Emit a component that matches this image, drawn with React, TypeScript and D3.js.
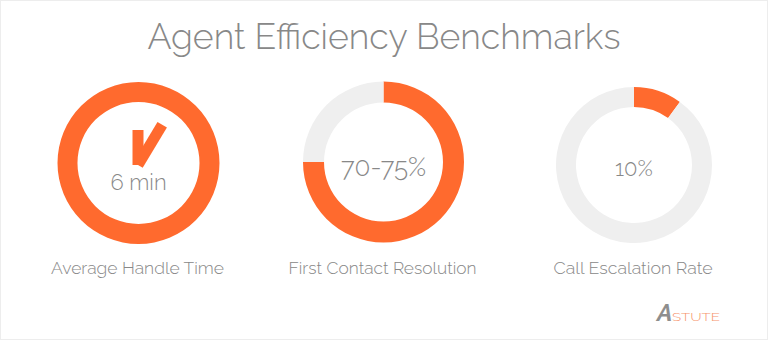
import React from "react";
import * as d3 from "d3";

const metricLabels = ["Average Handle Time", "First Contact Resolution", "Call Escalation Rate"];
const valueLabels = ["6 min", "70-75%", "10%"];
const shares = [1.0, 0.75, 0.1];
const titleText = "Agent Efficiency Benchmarks";
const handAngles = [0, 31]; // degrees: hour hand, minute hand (clock in first ring)
const handLengths = [35, 47];

const W = 768;
const H = 340;
const ORANGE = "#FF6A2E";
const TRACK = "#EFEFEF";
const TEXT = "#888888";
const FONT = "Raleway, Lato, 'Open Sans', sans-serif";

const layout = [
  { cx: 138.5, cy: 163, ro: 81, ri: 61, fs: 22, ty: 190, lw: 173 },
  { cx: 383.5, cy: 162, ro: 80.5, ri: 59.5, fs: 26, ty: 176, lw: 188 },
  { cx: 634, cy: 165, ro: 78, ri: 58, fs: 22, ty: 176, lw: 159 },
];

function handPolygon(cx: number, cy: number, angleDeg: number, len: number, w: number) {
  const a = (angleDeg * Math.PI) / 180;
  const ux = Math.sin(a), uy = -Math.cos(a);
  const px = Math.cos(a), py = Math.sin(a);
  const pts: [number, number][] = [
    [cx - (px * w) / 2, cy - (py * w) / 2],
    [cx + (px * w) / 2, cy + (py * w) / 2],
    [cx + (px * w) / 2 + ux * len, cy + (py * w) / 2 + uy * len],
    [cx - (px * w) / 2 + ux * len, cy - (py * w) / 2 + uy * len],
  ];
  return pts.map((p) => p.join(",")).join(" ");
}

export default function App() {
  const pie = d3.pie<number>().sort(null).value((d) => d);
  return (
    <svg width={W} height={H} style={{ position: "absolute", left: 0, top: 0, background: "#fff" }}>
      <rect x={0.5} y={0.5} width={W - 1} height={H - 1} fill="#fff" stroke="#EDEDED" />
      <text x={384} y={49} textAnchor="middle" fontFamily={FONT} fontWeight={300} fontSize={36} fill={TEXT} textLength={473} lengthAdjust="spacingAndGlyphs">
        {titleText}
      </text>
      {shares.map((s, i) => {
        const L = layout[i];
        const arc = d3.arc<d3.PieArcDatum<number>>().innerRadius(L.ri).outerRadius(L.ro);
        const arcs = pie(s >= 1 ? [1, 0] : [s, 1 - s]);
        return (
          <g key={i}>
            <g transform={`translate(${L.cx},${L.cy})`}>
              {arcs.map((a, j) => (
                <path key={j} d={arc(a) || ""} fill={j === 0 ? ORANGE : TRACK} />
              ))}
            </g>
            <text x={L.cx} y={L.ty} textAnchor="middle" fontFamily={FONT} fontWeight={300} fontSize={L.fs} fill={TEXT}>
              {valueLabels[i]}
            </text>
            <text x={L.cx - 1} y={274} textAnchor="middle" fontFamily={FONT} fontWeight={300} fontSize={17.5} fill={TEXT} textLength={L.lw} lengthAdjust="spacingAndGlyphs">
              {metricLabels[i]}
            </text>
          </g>
        );
      })}
      {handAngles.map((ang, k) => (
        <polygon key={k} points={handPolygon(layout[0].cx - 0.5, layout[0].cy + 2, ang, handLengths[k], 11)} fill={ORANGE} />
      ))}
      <g>
        <text x={657} y={321} fontFamily={FONT} fontSize={24} fontStyle="italic" fontWeight={700} fill="#8E8E8E">A</text>
        <text x={672} y={320.5} fontFamily={FONT} fontWeight={300} fontSize={10.5} fill="#F6946C" textLength={48} lengthAdjust="spacingAndGlyphs">STUTE</text>
      </g>
    </svg>
  );
}
